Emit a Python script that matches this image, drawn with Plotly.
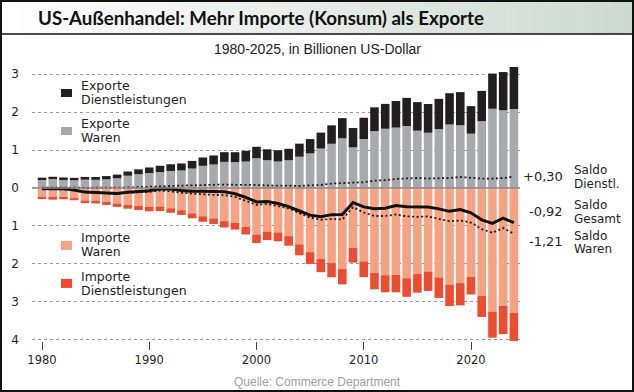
import plotly.graph_objects as go

# ---------------- data (Billionen US-Dollar) ----------------
years = list(range(1980, 2025))
exporte_waren = [0.224, 0.237, 0.211, 0.202, 0.219, 0.215, 0.227, 0.254, 0.322, 0.363,
                 0.393, 0.421, 0.448, 0.460, 0.512, 0.584, 0.618, 0.688, 0.681, 0.697,
                 0.784, 0.731, 0.698, 0.730, 0.824, 0.911, 1.040, 1.165, 1.309, 1.070,
                 1.290, 1.499, 1.562, 1.593, 1.635, 1.511, 1.457, 1.553, 1.674, 1.653,
                 1.432, 1.764, 2.090, 2.051, 2.083]
exporte_dienst = [0.047, 0.057, 0.064, 0.064, 0.071, 0.073, 0.086, 0.098, 0.110, 0.128,
                  0.147, 0.164, 0.177, 0.186, 0.201, 0.220, 0.239, 0.256, 0.262, 0.282,
                  0.302, 0.288, 0.297, 0.303, 0.345, 0.378, 0.420, 0.487, 0.533, 0.512,
                  0.563, 0.628, 0.656, 0.701, 0.741, 0.753, 0.758, 0.798, 0.826, 0.876,
                  0.726, 0.797, 0.928, 1.007, 1.108]
importe_waren = [0.250, 0.265, 0.247, 0.268, 0.332, 0.338, 0.368, 0.409, 0.448, 0.477,
                 0.498, 0.491, 0.537, 0.589, 0.669, 0.750, 0.803, 0.877, 0.918, 1.030,
                 1.231, 1.153, 1.173, 1.272, 1.488, 1.696, 1.879, 1.986, 2.141, 1.580,
                 1.939, 2.240, 2.303, 2.294, 2.385, 2.273, 2.208, 2.360, 2.555, 2.512,
                 2.346, 2.853, 3.272, 3.110, 3.295]
importe_dienst = [0.041, 0.045, 0.051, 0.055, 0.068, 0.073, 0.080, 0.091, 0.099, 0.104,
                  0.118, 0.118, 0.119, 0.124, 0.133, 0.142, 0.152, 0.166, 0.180, 0.199,
                  0.224, 0.223, 0.235, 0.253, 0.290, 0.311, 0.344, 0.371, 0.405, 0.390,
                  0.414, 0.435, 0.452, 0.462, 0.489, 0.491, 0.510, 0.544, 0.563, 0.588,
                  0.467, 0.550, 0.680, 0.748, 0.805]
saldo_gesamt = [-0.020, -0.016, -0.023, -0.057, -0.110, -0.123, -0.135, -0.148, -0.115, -0.090,
                -0.076, -0.024, -0.031, -0.067, -0.089, -0.088, -0.098, -0.099, -0.155, -0.250,
                -0.369, -0.357, -0.413, -0.492, -0.609, -0.718, -0.763, -0.705, -0.704, -0.388,
                -0.500, -0.548, -0.537, -0.462, -0.498, -0.500, -0.503, -0.553, -0.618, -0.571,
                -0.655, -0.842, -0.934, -0.800, -0.918]
saldo_waren = [-0.026, -0.028, -0.036, -0.066, -0.113, -0.123, -0.141, -0.155, -0.126, -0.114,
               -0.105, -0.070, -0.089, -0.129, -0.157, -0.166, -0.185, -0.189, -0.237, -0.333,
               -0.447, -0.422, -0.475, -0.542, -0.664, -0.785, -0.839, -0.821, -0.832, -0.510,
               -0.649, -0.741, -0.741, -0.701, -0.750, -0.762, -0.751, -0.807, -0.881, -0.859,
               -0.914, -1.089, -1.182, -1.059, -1.212]
saldo_dienst = [0.006, 0.012, 0.013, 0.009, 0.003, 0.000, 0.006, 0.007, 0.011, 0.024,
                0.029, 0.046, 0.058, 0.062, 0.068, 0.078, 0.087, 0.090, 0.082, 0.083,
                0.078, 0.065, 0.062, 0.050, 0.055, 0.067, 0.076, 0.116, 0.128, 0.122,
                0.149, 0.193, 0.204, 0.239, 0.252, 0.262, 0.248, 0.254, 0.263, 0.288,
                0.259, 0.247, 0.248, 0.259, 0.303]

y_tickvals = [-4, -3, -2, -1, 0, 1, 2, 3]
y_ticktext = ["4", "3", "2", "1", "0", "1", "2", "3"]
x_tickvals = [1980, 1990, 2000, 2010, 2020]

title_text = "US-Außenhandel: Mehr Importe (Konsum) als Exporte"
subtitle_text = "1980-2025, in Billionen US-Dollar"
source_text = "Quelle: Commerce Department"

# ---------------- styles ----------------
C_EXP_D = "#231f20"
C_EXP_W = "#a7a9ac"
C_IMP_W = "#f9a283"
C_IMP_D = "#ef4b2e"
FONT = "DejaVu Sans"

W, H = 634, 392
L, R, T, B = 32, 520, 61, 341.1

def px(x):
    return (x - L) / (R - L)

def py(y):
    return (B - y) / (B - T)

neg_iw = [-v for v in importe_waren]
neg_id = [-v for v in importe_dienst]

fig = go.Figure()
fig.add_trace(go.Bar(x=years, y=exporte_waren, marker_color=C_EXP_W, marker_line_width=0, width=0.8))
fig.add_trace(go.Bar(x=years, y=exporte_dienst, marker_color=C_EXP_D, marker_line_width=0, width=0.8))
fig.add_trace(go.Bar(x=years, y=neg_iw, marker_color=C_IMP_W, marker_line_width=0, width=0.8))
fig.add_trace(go.Bar(x=years, y=neg_id, marker_color=C_IMP_D, marker_line_width=0, width=0.8))
fig.add_trace(go.Scatter(x=years, y=saldo_dienst, mode="lines",
                         line=dict(color="#1a1a1a", width=1.8, dash="2px,2.5px")))
fig.add_trace(go.Scatter(x=years, y=saldo_waren, mode="lines",
                         line=dict(color="#1a1a1a", width=1.8, dash="2px,2.5px")))
fig.add_trace(go.Scatter(x=years, y=saldo_gesamt, mode="lines",
                         line=dict(color="#111111", width=3)))

fig.update_layout(
    width=W, height=H, barmode="relative", bargap=0.2, showlegend=False,
    paper_bgcolor="white", plot_bgcolor="white",
    margin=dict(l=L, r=W - R, t=T, b=H - B, pad=0),
    font=dict(family=FONT, color="#231f20"),
)
fig.update_xaxes(range=[1980 - (42 - L) / 10.725, 1980 + (R - 42) / 10.725],
                 tickvals=x_tickvals, ticks="outside", ticklen=8, tickwidth=1,
                 tickcolor="#444", showgrid=False, zeroline=False, showline=False,
                 tickfont=dict(size=11.5, family=FONT, color="#231f20"))
fig.update_yaxes(range=[-4.04, 3.35], tickvals=y_tickvals, ticktext=y_ticktext,
                 showgrid=True, gridcolor="#9a9a9a", griddash="dot", gridwidth=1,
                 zeroline=False, showline=False, ticks="", ticklabelstandoff=12,
                 tickfont=dict(size=12, family=FONT, color="#231f20"))

shapes = []
# zero line
shapes.append(dict(type="line", xref="paper", yref="y", x0=0, x1=1, y0=0, y1=0,
                   line=dict(color="#8a8a8a", width=1.5), layer="above"))
# title gradient
n = 60
for i in range(n):
    t = i / (n - 1)
    r = int(255 - t * (255 - 206))
    g = int(255 - t * (255 - 218))
    b_ = int(255 - t * (255 - 209))
    shapes.append(dict(type="rect", xref="paper", yref="paper",
                       x0=px(i * W / n), x1=px((i + 1) * W / n + 0.5),
                       y0=py(34), y1=py(0), line=dict(width=0),
                       fillcolor=f"rgb({r},{g},{b_})", layer="below"))
shapes.append(dict(type="line", xref="paper", yref="paper", x0=px(0), x1=px(W),
                   y0=py(34), y1=py(34), line=dict(color="#111", width=1.5)))
# outer border
shapes.append(dict(type="rect", xref="paper", yref="paper", x0=px(1), x1=px(W - 1),
                   y0=py(H - 1), y1=py(1), line=dict(color="#111", width=2)))

# legend squares
legend_items = [
    (C_EXP_D, 89, 97, "Exporte", "Dienstleistungen", 86, 100),
    (C_EXP_W, 127, 135, "Exporte", "Waren", 124, 138),
    (C_IMP_W, 241, 250, "Importe", "Waren", 237.5, 251.5),
    (C_IMP_D, 279, 288, "Importe", "Dienstleistungen", 276.5, 290.5),
]
annotations = []
for col, s0, s1, t1, t2, y1_, y2_ in legend_items:
    shapes.append(dict(type="rect", xref="paper", yref="paper", x0=px(61), x1=px(72),
                       y0=py(s1), y1=py(s0), line=dict(width=0), fillcolor=col))
    for txt, yy in ((t1, y1_), (t2, y2_)):
        annotations.append(dict(text=txt, xref="paper", yref="paper", x=px(79), y=py(yy),
                                xanchor="left", yanchor="middle", showarrow=False,
                                font=dict(size=12.5, family=FONT, color="#231f20")))

# right labels
right_items = [("+0,30", "Saldo", "Dienstl.", 177, 170.5, 184),
               ("-0,92", "Saldo", "Gesamt", 212, 205.5, 219),
               ("-1,21", "Saldo", "Waren", 242, 236, 249.5)]
for val, a, b2, yv, ya, yb in right_items:
    annotations.append(dict(text=val, xref="paper", yref="paper", x=px(565), y=py(yv),
                            xanchor="right", yanchor="middle", showarrow=False,
                            font=dict(size=13, family=FONT, color="#231f20")))
    for txt, yy in ((a, ya), (b2, yb)):
        annotations.append(dict(text=txt, xref="paper", yref="paper", x=px(572), y=py(yy),
                                xanchor="left", yanchor="middle", showarrow=False,
                                font=dict(size=12, family=FONT, color="#231f20")))

annotations.append(dict(text="<b>" + title_text + "</b>", xref="paper", yref="paper",
                        x=px(261), y=py(17.5), xanchor="center", yanchor="middle",
                        showarrow=False, font=dict(size=18.7, family="Lato", color="#111")))
annotations.append(dict(text=subtitle_text, xref="paper", yref="paper",
                        x=px(317), y=py(49), xanchor="center", yanchor="middle",
                        showarrow=False, font=dict(size=14, family="Liberation Sans", color="#222")))
annotations.append(dict(text=source_text, xref="paper", yref="paper",
                        x=px(317), y=py(382.5), xanchor="center", yanchor="middle",
                        showarrow=False, font=dict(size=12, family="Liberation Sans", color="#a0a0a0")))

fig.update_layout(shapes=shapes, annotations=annotations)
fig.write_html("out.html", config={"displayModeBar": False},
               post_script="document.body.style.margin='0';document.body.style.overflow='hidden';")
